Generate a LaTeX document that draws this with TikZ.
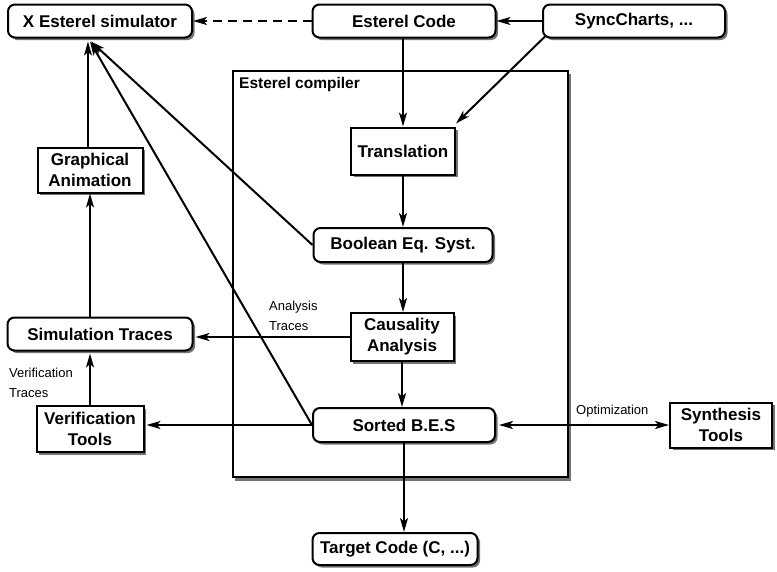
\documentclass[tikz,border=0pt]{standalone}
\usepackage{fontspec}
\setmainfont{Liberation Sans}
\usetikzlibrary{arrows.meta,shadows}
\tikzset{
  shadowed/.style={general shadow={shadow xshift=2.5pt, shadow yshift=-2.5pt, fill=black!55}},
  base/.style={draw, line width=2pt, fill=white, align=center, inner sep=0pt,
    font=\bfseries\fontsize{17}{21}\selectfont, shadowed},
  rbox/.style={base, rounded corners=7pt},
  sbox/.style={base},
  conn/.style={line width=2pt, -{Stealth[length=14pt,width=8pt,inset=3.5pt]}},
  small/.style={font=\fontsize{13}{20}\selectfont, align=left, inner sep=0pt}
}
\begin{document}
\begin{tikzpicture}[x=1pt,y=-1pt]
\useasboundingbox (0,0) rectangle (777,571);
% compiler container
\fill[black!55] (568,74) rectangle (571,481);
\fill[black!55] (235,478) rectangle (571,481);
\node[draw, line width=2pt, minimum width=335pt, minimum height=406pt, inner sep=0pt] (comp) at (400,274) {};
\node[anchor=north west, inner sep=0pt, font=\bfseries\fontsize{15.5}{18}\selectfont] (complbl) at ([xshift=7.5pt,yshift=-7pt]comp.north west) {Esterel compiler};
% nodes
\node[rbox, minimum width=184pt, minimum height=33pt] (sim) at (100,21) {X Esterel simulator};
\node[rbox, minimum width=183pt, minimum height=33pt] (code) at (404,21) {Esterel Code};
\node[rbox, minimum width=182pt, minimum height=33pt] (sync) at (634,21) {SyncCharts, ...};
\node[sbox, minimum width=104pt, minimum height=47pt] (trans) at (403,151) {Translation};
\node[rbox, minimum width=179pt, minimum height=34pt] (bool) at (403,245) {Boolean Eq. Syst.};
\node[sbox, minimum width=103pt, minimum height=48pt] (caus) at (402,337) {Causality\\Analysis};
\node[rbox, minimum width=182pt, minimum height=34pt] (sorted) at (404,425) {Sorted B.E.S};
\node[rbox, minimum width=165pt, minimum height=32pt] (target) at (395,549) {Target Code (C, ...)};
\node[sbox, minimum width=102pt, minimum height=45pt] (synth) at (721,425) {Synthesis\\Tools};
\node[sbox, minimum width=105pt, minimum height=45pt] (anim) at (90,170) {Graphical\\Animation};
\node[rbox, minimum width=185pt, minimum height=33pt] (simtr) at (100,334) {Simulation Traces};
\node[sbox, minimum width=107pt, minimum height=46pt] (verif) at (90,429) {Verification\\Tools};
% labels
\node[small, anchor=west] (atl) at (269,316) {Analysis\\Traces};
\node[small, anchor=west] (vtl) at (9,383) {Verification\\Traces};
\node[small, anchor=west] (opt) at (576,411) {Optimization};
% connectors
\draw[conn, dash pattern=on 9pt off 6pt] (code.west) -- (sim.east);
\draw[conn] (sync.west) -- (code.east);
\draw[conn] ([xshift=3pt,yshift=2pt]sync.south west) -- ([yshift=3pt]trans.north east);
\draw[conn] (code.south -| trans.north) -- (trans.north);
\draw[conn] (trans.south) -- (trans.south |- bool.north);
\draw[conn] (bool.south) -- (bool.south |- caus.north);
\draw[conn] (caus.south) -- (caus.south |- sorted.north);
\draw[conn] (sorted.south) -- (sorted.south |- target.north);
\draw[conn] (bool.west) -- ([xshift=-9pt,yshift=-3pt]sim.south);
\draw[conn] (sorted.west) -- ([xshift=-10pt,yshift=-3pt]sim.south);
\draw[conn] ([xshift=-2pt]anim.north) -- ([xshift=-2pt,yshift=-3pt]anim.north |- sim.south);
\draw[conn] (simtr.north -| anim.south) -- (anim.south);
\draw[conn] (caus.west) -- ([xshift=2pt]caus.west -| simtr.east);
\draw[conn] (verif.north) -- ([yshift=-2pt]simtr.south -| verif.north);
\draw[conn] (sorted.west) -- ([xshift=2pt]sorted.west -| verif.east);
\draw[line width=2pt, {Stealth[length=14pt,width=8pt,inset=3.5pt]}-{Stealth[length=14pt,width=8pt,inset=3.5pt]}] ([xshift=3pt]sorted.east) -- (synth.west);
\end{tikzpicture}
\end{document}
